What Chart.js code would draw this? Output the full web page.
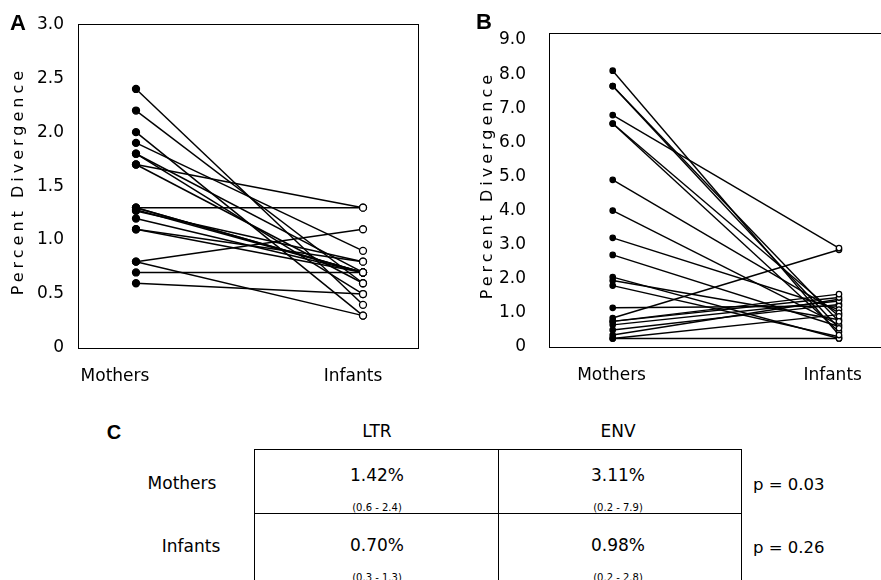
<!DOCTYPE html>
<html lang="en">
<head>
<meta charset="utf-8"/>
<title>Percent Divergence: Mothers vs Infants</title>
<script src="https://cdn.jsdelivr.net/npm/chart.js@4"></script>
<style>
  html, body { margin: 0; padding: 0; background: #fff; }
  #fig { position: relative; width: 881px; height: 580px; overflow: hidden; background: #fff;
         font-family: 'DejaVu Sans', sans-serif; color: #000; }
  #fig canvas { position: absolute; top: 0; }
  .txt { position: absolute; white-space: nowrap; transform: translate(-50%, -50%); }
  .panel { font-family: 'Liberation Sans', Arial, sans-serif; font-weight: bold; font-size: 22px; }
  .big { font-size: 17px; }
  .small { font-size: 10px; }
  .pval { font-size: 16.5px; transform: translate(0, -50%); }
  .rule { position: absolute; background: #000; }
</style>
</head>
<body>
<div id="fig">
  <canvas id="chartA" width="440" height="390" style="left:0"></canvas>
  <canvas id="chartB" width="460" height="390" style="left:440px"></canvas>
  <div class="txt panel" style="left:18px;top:23px">A</div>
  <div class="txt panel" style="left:484px;top:22px">B</div>
  <div class="txt panel" style="left:114px;top:432px;font-size:20px">C</div>
  <div id="tableC"></div>
</div>
<script>
// x categories
const groups = ['Mothers', 'Infants'];

// panel A (LTR): one mother/infant pair per index
const mothersLTR = [2.4, 2.2, 2.0, 1.9, 1.8, 1.8, 1.7, 1.7, 1.3, 1.3, 1.3, 1.28, 1.27, 1.2, 1.1, 1.1, 0.8, 0.8, 0.7, 0.6];
const infantsLTR = [0.4, 0.6, 0.3, 0.9, 0.7, 0.5, 1.3, 0.6, 1.3, 0.7, 0.7, 0.7, 0.8, 0.7, 0.7, 0.8, 1.1, 0.3, 0.7, 0.5];

// panel B (ENV)
const mothersENV = [8.1, 7.65, 7.65, 6.8, 6.55, 6.55, 4.9, 4.0, 3.2, 2.7, 2.05, 1.95, 1.8, 1.15, 0.85, 0.75, 0.75, 0.65, 0.5, 0.35, 0.25, 0.25];
const infantsENV = [0.35, 0.55, 0.75, 2.9, 0.9, 0.45, 1.0, 0.65, 1.1, 0.6, 0.25, 0.8, 0.3, 1.2, 2.85, 1.55, 1.45, 1.35, 1.25, 1.4, 0.25, 0.95];

// panel C table
const tableCols = ['LTR', 'ENV'];
const tableMeans = [['1.42%', '3.11%'], ['0.70%', '0.98%']];
const tableRanges = [['(0.6 - 2.4)', '(0.2 - 7.9)'], ['(0.3 - 1.3)', '(0.2 - 2.8)']];
const pValues = ['p = 0.03', 'p = 0.26'];

Chart.defaults.font.family = "'DejaVu Sans', sans-serif";
Chart.defaults.color = '#000';

const frame = {
  id: 'frame',
  beforeDraw(chart) {
    // spaced-out y title, nudged up a little
    const y = chart.scales.y;
    if (!y._spaced) {
      const draw = y.drawTitle;
      y.drawTitle = function () {
        const c = this.ctx;
        c.save();
        c.letterSpacing = '4px';
        c.translate(0, -5);
        draw.call(this);
        c.restore();
      };
      y._spaced = true;
    }
  },
  afterDraw(chart) {
    const {ctx, chartArea: a} = chart;
    ctx.save();
    ctx.strokeStyle = '#000';
    ctx.lineWidth = 1;
    ctx.strokeRect(Math.round(a.left) + 0.5, Math.round(a.top) + 0.5,
      Math.round(a.right - a.left), Math.round(a.bottom - a.top));
    ctx.restore();
  }
};

function pairs(mothers, infants, r, lw) {
  return mothers.map((m, i) => ({
    data: [{x: 0, y: m}, {x: 1, y: infants[i]}],
    borderColor: '#000',
    borderWidth: lw,
    pointRadius: r,
    pointBorderWidth: 1.3,
    pointBorderColor: '#000',
    pointBackgroundColor: ['#000', '#fff']
  }));
}

function makeChart(id, mothers, infants, g) {
  return new Chart(document.getElementById(id), {
    type: 'line',
    data: { datasets: pairs(mothers, infants, g.r, g.lw) },
    options: {
      responsive: false,
      animation: false,
      devicePixelRatio: 1,
      layout: { padding: { left: 0, top: 16, right: g.padR, bottom: 0 } },
      plugins: { legend: { display: false }, tooltip: { enabled: false } },
      scales: {
        x: {
          type: 'linear', min: g.xMin, max: g.xMax,
          grid: { display: false, drawTicks: false },
          border: { display: true, color: '#000', width: 1 },
          afterBuildTicks: s => { s.ticks = g.labelAt.map(v => ({ value: v })); },
          afterFit: s => { s.height = g.axisH; },
          ticks: { padding: 18, font: { size: 17 }, autoSkip: false, maxRotation: 0,
                   callback: (v, i) => groups[i] }
        },
        y: {
          min: 0, max: g.yMax,
          grid: { display: false, drawTicks: false },
          border: { display: true, color: '#000', width: 1 },
          afterFit: s => { s.width = g.axisW; },
          ticks: { stepSize: g.step, includeBounds: false, padding: g.tickPad, font: { size: 17 },
                   callback: v => v === 0 ? '0' : v.toFixed(1) },
          title: { display: true, text: 'Percent Divergence', font: { size: 16 },
                   padding: { top: g.titlePad, bottom: 0 } }
        }
      }
    },
    plugins: [frame]
  });
}

makeChart('chartA', mothersLTR, infantsLTR, {
  xMin: -0.2555, xMax: 1.2423, labelAt: [-0.0925, 0.956],
  yMax: 3, step: 0.5, axisW: 78, axisH: 42, padR: 22, tickPad: 14, titlePad: 9, r: 3.5, lw: 1.5
});

makeChart('chartB', mothersENV, infantsENV, {
  xMin: -0.2815, xMax: 1.2033, labelAt: [-0.005, 0.972],
  yMax: 9.2, step: 1, axisW: 109, axisH: 43, padR: 15, tickPad: 23, titlePad: 38, r: 2.7, lw: 1.4
});

// table C
const t = document.getElementById('tableC');
const colX = [377, 618];
const rowY = [475, 545];
const rowLabelX = [182, 191];
const rowLabelY = [483, 546];
let html = '';
tableCols.forEach((c, j) => {
  html += `<div class="txt big" style="left:${colX[j]}px;top:431px">${c}</div>`;
});
groups.forEach((g, i) => {
  html += `<div class="txt big" style="left:${rowLabelX[i]}px;top:${rowLabelY[i]}px">${g}</div>`;
  tableCols.forEach((c, j) => {
    html += `<div class="txt big" style="left:${colX[j]}px;top:${rowY[i]}px">${tableMeans[i][j]}</div>`;
    html += `<div class="txt small" style="left:${colX[j]}px;top:${rowY[i] + 32}px">${tableRanges[i][j]}</div>`;
  });
  html += `<div class="txt pval" style="left:753px;top:${rowLabelY[i] + 1}px">${pValues[i]}</div>`;
});
html += '<div class="rule" style="left:254px;top:449px;width:488px;height:1px"></div>';
html += '<div class="rule" style="left:254px;top:513px;width:488px;height:1px"></div>';
html += '<div class="rule" style="left:254px;top:449px;width:1px;height:140px"></div>';
html += '<div class="rule" style="left:498px;top:449px;width:1px;height:140px"></div>';
html += '<div class="rule" style="left:741px;top:449px;width:1px;height:140px"></div>';
t.innerHTML = html;
</script>
</body>
</html>
